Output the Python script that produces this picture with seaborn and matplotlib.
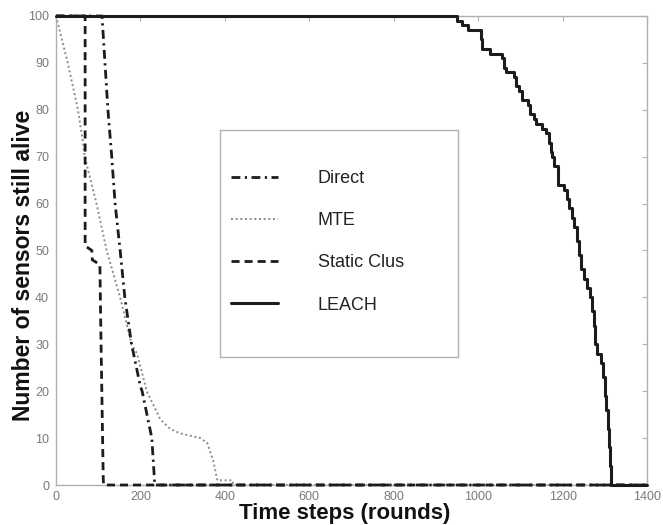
import matplotlib
matplotlib.use("Agg")
import matplotlib.pyplot as plt
import seaborn as sns
import pandas as pd
from matplotlib.patches import Rectangle

# ---- data ----
direct_x = [0, 109, 116, 123, 132, 140, 152, 163, 179, 200, 204, 227, 234, 1400]
direct_y = [100, 100, 90, 80, 70, 60, 50, 40, 30, 21, 20, 10, 0, 0]

mte_x = [0, 28, 52, 64, 68, 96, 120, 152, 179, 192, 215, 247, 270, 294, 342, 358, 373, 382, 418, 420, 1400]
mte_y = [100, 90, 80, 73, 70, 60, 50, 40, 30, 28, 20, 14, 12, 11, 10, 9, 5, 1, 1, 0, 0]

static_x = [0, 69, 69, 85, 86, 104, 106, 112, 113, 1400]
static_y = [100, 100, 51, 50, 48, 47, 34, 1, 0, 0]

leach_x = [0, 950, 962, 975, 1007, 1010, 1027, 1056, 1061, 1065, 1084, 1090, 1097, 1105,
           1117, 1124, 1133, 1137, 1152, 1160, 1167, 1172, 1176, 1180, 1188, 1204, 1210,
           1216, 1222, 1228, 1234, 1240, 1244, 1250, 1258, 1264, 1270, 1274, 1278, 1282,
           1290, 1296, 1300, 1304, 1308, 1311, 1313, 1314, 1400]
leach_y = [100, 99, 98, 97, 95, 93, 92, 91, 89, 88, 87, 85, 84, 82,
           81, 79, 78, 77, 76, 75, 73, 71, 70, 68, 64, 63, 61,
           59, 57, 55, 52, 49, 46, 44, 42, 40, 37, 34, 30, 28,
           26, 23, 19, 16, 12, 8, 4, 0, 0]

labels = ["Direct", "MTE", "Static Clus", "LEACH"]
x_ticks = list(range(0, 1401, 200))
y_ticks = list(range(0, 101, 10))

sns.set_style("white")
plt.rcParams["font.family"] = ["Liberation Sans", "DejaVu Sans"]

fig = plt.figure(figsize=(6.63, 5.25), dpi=100)
ax = fig.add_axes([56 / 663, 1 - 485 / 525, 591 / 663, 469 / 525])

ink = "#1c1c1c"
sns.lineplot(x=direct_x, y=direct_y, ax=ax, estimator=None, sort=False, color=ink,
             lw=2.0, linestyle=(0, (3.2, 1.6, 0.8, 1.6)), label=labels[0], clip_on=False, zorder=3)
sns.lineplot(x=mte_x, y=mte_y, ax=ax, estimator=None, sort=False, color="#8a8a8a",
             lw=1.4, linestyle=(0, (1, 1.4)), label=labels[1], clip_on=False, zorder=2)
sns.lineplot(x=static_x, y=static_y, ax=ax, estimator=None, sort=False, color=ink,
             lw=2.0, linestyle=(0, (2.9, 1.8)), label=labels[2], clip_on=False, zorder=3)
sns.lineplot(x=leach_x, y=leach_y, ax=ax, estimator=None, sort=False, color=ink,
             lw=2.2, drawstyle="steps-post", label=labels[3], clip_on=False, zorder=4)

ax.set_xlim(0, 1400)
ax.set_ylim(0, 100)
ax.set_xticks(x_ticks)
ax.set_yticks(y_ticks)
ax.set_xticklabels([str(v) for v in x_ticks])
ax.set_yticklabels([str(v) for v in y_ticks])

for s in ax.spines.values():
    s.set_color("#b0b0b0")
    s.set_linewidth(1.0)
ax.tick_params(direction="in", length=3.5, width=0.8, color="#b0b0b0",
               top=True, right=True, labelsize=9, labelcolor="#7a7a7a")
ax.tick_params(axis="y", pad=5)
ax.tick_params(axis="x", pad=4)

ax.set_xlabel("Time steps (rounds)", fontsize=16, fontweight="bold", color="#111111")
ax.set_ylabel("Number of sensors still alive", fontsize=16.5, fontweight="bold", color="#111111")
ax.xaxis.set_label_coords(0.488, -0.038)
ax.yaxis.set_label_coords(-0.036, 0.469)

# legend box (frame drawn separately to match the stretched box)
ax.add_patch(Rectangle((0.2775, 0.273), 0.4025, 0.484, transform=ax.transAxes,
                       fill=True, facecolor="white", edgecolor="#b0b0b0", lw=1.0, zorder=5))
leg = ax.legend(loc="upper left", bbox_to_anchor=(0.296, 0.672), frameon=False,
                fontsize=13, handlelength=2.6, handletextpad=2.2, labelspacing=1.4,
                borderpad=0, borderaxespad=0)
leg.set_zorder(6)
for t in leg.get_texts():
    t.set_color("#222222")

fig.savefig("out.png", dpi=100)
